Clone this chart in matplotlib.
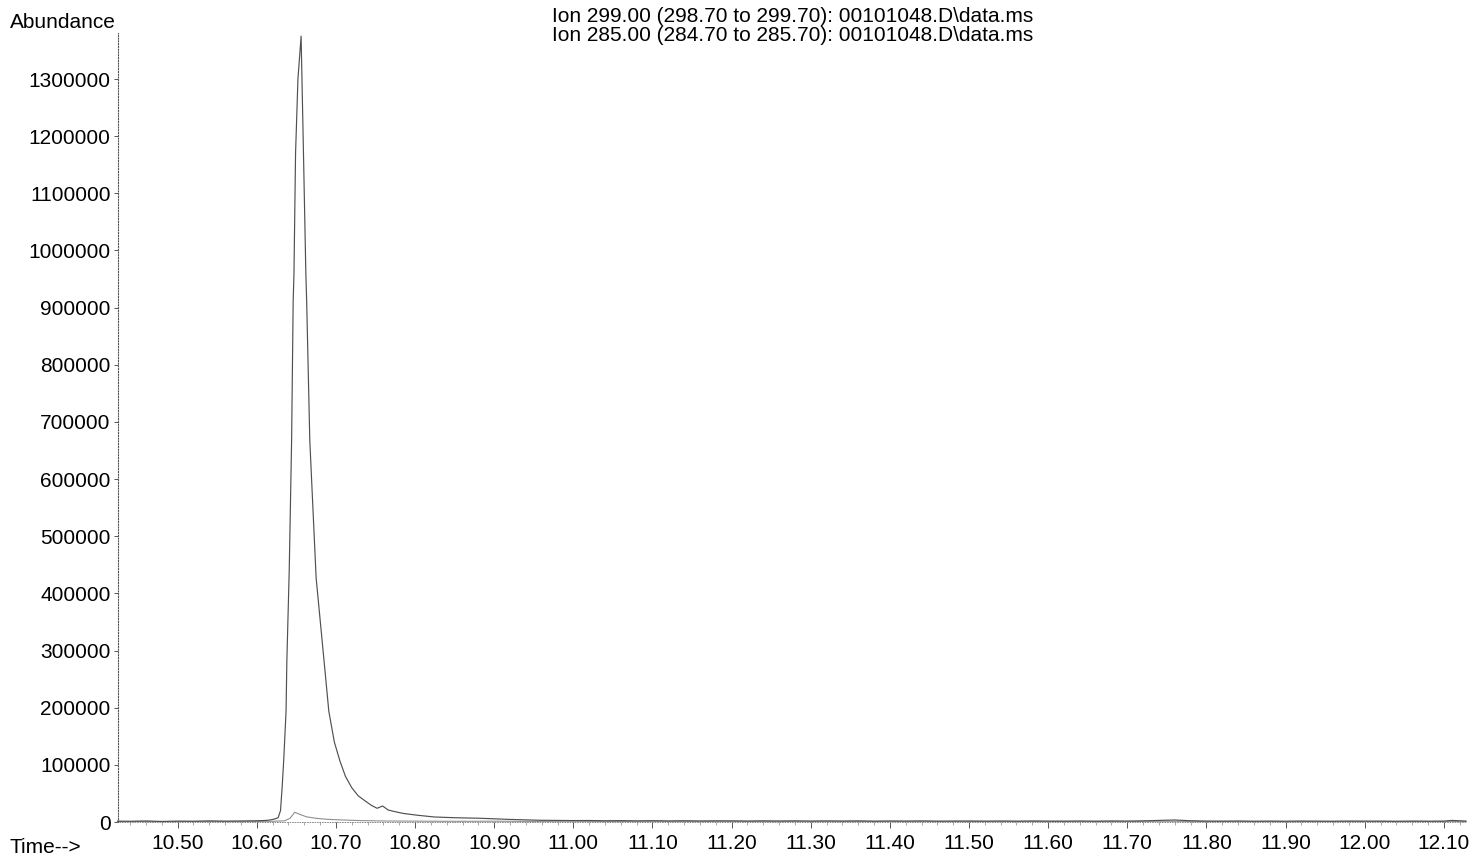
import matplotlib
matplotlib.use("Agg")
import matplotlib.pyplot as plt
from matplotlib.ticker import MultipleLocator, FixedLocator

plt.rcParams['font.family'] = ['Liberation Sans', 'DejaVu Sans']

# ---- data: Ion 299 trace (time in min, abundance) ----
t299 = [10.424, 10.44, 10.46, 10.48, 10.50, 10.52, 10.54, 10.56, 10.58, 10.60,
        10.61, 10.615, 10.621, 10.627, 10.630, 10.632, 10.634, 10.637, 10.638,
        10.641, 10.644, 10.646, 10.647, 10.649, 10.652, 10.656, 10.659, 10.662,
        10.663, 10.667, 10.675, 10.685, 10.691, 10.698, 10.705, 10.712, 10.720,
        10.728, 10.737, 10.745, 10.752, 10.759, 10.766, 10.775, 10.785, 10.794,
        10.802, 10.824, 10.85, 10.883, 10.92, 10.959, 11.00,
        11.02, 11.04, 11.06, 11.08, 11.10, 11.12, 11.14, 11.16, 11.18, 11.20,
        11.22, 11.24, 11.26, 11.28, 11.30, 11.32, 11.34, 11.36, 11.38, 11.40,
        11.42, 11.44, 11.46, 11.48, 11.50, 11.52, 11.54, 11.56, 11.58, 11.60,
        11.62, 11.64, 11.66, 11.68, 11.70, 11.72, 11.74, 11.76, 11.78, 11.80,
        11.82, 11.84, 11.86, 11.88, 11.90, 11.92, 11.94, 11.96, 11.98, 12.00,
        12.02, 12.04, 12.06, 12.08, 12.10, 12.11, 12.128]
v299 = [1500, 1200, 1800, 1000, 1500, 1300, 2000, 1400, 1700, 2200,
        2600, 3200, 4700, 7500, 20000, 60000, 107000, 194000, 282000,
        440000, 667000, 913000, 960000, 1170000, 1300000, 1375000, 1170000, 960000,
        913000, 667000, 427000, 282000, 194000, 140000, 107000, 80000, 60000,
        46000, 36800, 29000, 24000, 28000, 21000, 18000, 15000, 13400,
        12000, 8800, 7500, 6500, 4500, 3000, 2500,
        2600, 2200, 2400, 2000, 2300, 1900, 2200, 1800, 2100, 2000,
        1700, 2100, 1800, 2000, 1600, 1900, 1700, 2000, 1500, 1800,
        1600, 1900, 1500, 1700, 1800, 1500, 1700, 1400, 1800, 1600,
        1500, 1700, 1400, 1800, 1600, 2000, 2800, 3500, 2200, 1600,
        1500, 1700, 1300, 1600, 1400, 1700, 1500, 1300, 1600, 1400,
        1500, 1300, 1600, 1400, 1500, 2800, 1600]

# ---- data: Ion 285 trace ----
t285 = [10.424, 10.45, 10.48, 10.51, 10.54, 10.57, 10.60, 10.62, 10.635,
        10.642, 10.648, 10.655, 10.663, 10.675, 10.689, 10.709, 10.73, 10.76,
        10.80, 10.85, 10.90, 10.95, 11.00, 11.05, 11.10, 11.15, 11.20, 11.25,
        11.30, 11.35, 11.40, 11.45, 11.50, 11.55, 11.60, 11.65, 11.70, 11.75,
        11.80, 11.85, 11.90, 11.95, 12.00, 12.05, 12.10, 12.128]
v285 = [800, 1000, 700, 1100, 900, 1200, 1000, 1300, 2000,
        6500, 17000, 13000, 9000, 6500, 4700, 3500, 2500, 1800,
        1500, 1200, 1400, 1000, 1300, 900, 1200, 1000, 1100, 800,
        1200, 900, 1100, 1000, 800, 1200, 900, 1100, 1000, 1300,
        900, 1100, 800, 1000, 1200, 900, 1100, 1000]

ytick_vals = [0, 100000, 200000, 300000, 400000, 500000, 600000, 700000,
              800000, 900000, 1000000, 1100000, 1200000, 1300000]
xtick_vals = [10.50, 10.60, 10.70, 10.80, 10.90, 11.00, 11.10, 11.20, 11.30,
              11.40, 11.50, 11.60, 11.70, 11.80, 11.90, 12.00, 12.10]
title_lines = ["Ion 299.00 (298.70 to 299.70): 00101048.D\\data.ms",
               "Ion 285.00 (284.70 to 285.70): 00101048.D\\data.ms"]

FS = 15
W, H = 1471, 857
fig = plt.figure(figsize=(W / 100, H / 100), dpi=100)
left_px, right_px, top_px, bot_px = 117.5, 1466, 33, 822
ax = fig.add_axes([left_px / W, (H - bot_px) / H,
                   (right_px - left_px) / W, (bot_px - top_px) / H])

ax.plot(t285, v285, color='#8f8f8f', lw=0.8, clip_on=False)
ax.plot(t299, v299, color='#505050', lw=0.85, clip_on=False)

ax.set_xlim(10.424, 12.128)
ax.set_ylim(0, 1380500)

for s in ['top', 'right']:
    ax.spines[s].set_visible(False)
ax.spines['left'].set_linestyle((0, (1, 1.5)))
ax.spines['left'].set_color('#555555')
ax.spines['left'].set_linewidth(0.8)
ax.spines['bottom'].set_linestyle((0, (1, 2)))
ax.spines['bottom'].set_color('#777777')
ax.spines['bottom'].set_linewidth(0.6)

ax.yaxis.set_major_locator(FixedLocator(ytick_vals))
ax.set_yticklabels([str(v) for v in ytick_vals])
ax.xaxis.set_major_locator(FixedLocator(xtick_vals))
ax.set_xticklabels(["%.2f" % v for v in xtick_vals])
ax.xaxis.set_minor_locator(MultipleLocator(0.02))
ax.tick_params(axis='both', which='major', labelsize=FS, colors='#555555',
               labelcolor='black', width=0.7)
ax.tick_params(axis='x', which='major', length=4, pad=4.5)
ax.tick_params(axis='x', which='minor', length=2.2, width=0.5, colors='#888888')
ax.tick_params(axis='y', which='major', length=3, pad=2)

fig.text(10 / W, 1 - 28 / H, "Abundance", fontsize=FS, ha='left', va='baseline')
fig.text(10 / W, 1 - 853 / H, "Time-->", fontsize=FS, ha='left', va='baseline')
fig.text(552 / W, 1 - 22 / H, title_lines[0], fontsize=FS, ha='left', va='baseline')
fig.text(552 / W, 1 - 41 / H, title_lines[1], fontsize=FS, ha='left', va='baseline')

fig.savefig("out.png", dpi=100)
